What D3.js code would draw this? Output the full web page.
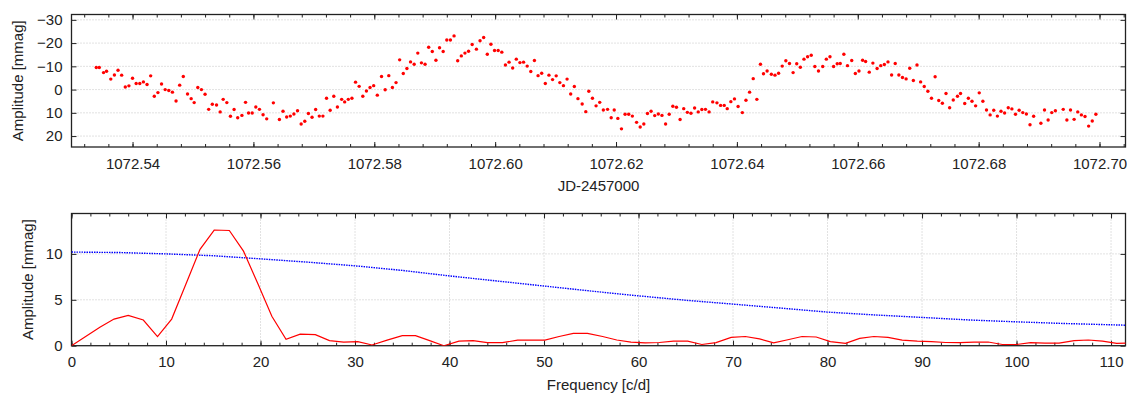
<!DOCTYPE html>
<html>
<head>
<meta charset="utf-8">
<script src="https://cdn.jsdelivr.net/npm/d3@7"></script>
<style>
  body { margin: 0; background: #fff; }
  svg { display: block; font-family: "Liberation Sans", Arial, sans-serif; }
  .grid line { stroke: #c4c4c4; stroke-width: 1; stroke-dasharray: 1,2; }
  .tick text { font-size: 15px; fill: #222; }
  .tick line { stroke: #222; }
  .title { font-size: 15px; fill: #222; }
</style>
</head>
<body>
<svg id="chart" width="1127" height="394"></svg>
<script>
// ─── Data ─────────────────────────────────────────────────────────────────────

// light curve: JD-2457000 and amplitude [mmag]
const lcTime = [
  1072.5340, 1072.5345, 1072.5352, 1072.5357, 1072.5364, 1072.5370, 1072.5376, 1072.5382, 1072.5388, 1072.5394,
  1072.5400, 1072.5406, 1072.5412, 1072.5418, 1072.5424, 1072.5430, 1072.5436, 1072.5442, 1072.5448, 1072.5454,
  1072.5460, 1072.5466, 1072.5472, 1072.5478, 1072.5484, 1072.5491, 1072.5497, 1072.5502, 1072.5508, 1072.5514,
  1072.5520, 1072.5526, 1072.5532, 1072.5539, 1072.5545, 1072.5550, 1072.5556, 1072.5562, 1072.5568, 1072.5574,
  1072.5581, 1072.5587, 1072.5592, 1072.5598, 1072.5604, 1072.5610, 1072.5616, 1072.5622, 1072.5633, 1072.5643,
  1072.5649, 1072.5655, 1072.5661, 1072.5667, 1072.5673, 1072.5679, 1072.5685, 1072.5691, 1072.5697, 1072.5703,
  1072.5709, 1072.5715, 1072.5721, 1072.5727, 1072.5733, 1072.5739, 1072.5746, 1072.5751, 1072.5757, 1072.5763,
  1072.5769, 1072.5775, 1072.5781, 1072.5787, 1072.5793, 1072.5799, 1072.5805, 1072.5812, 1072.5818, 1072.5824,
  1072.5830, 1072.5836, 1072.5842, 1072.5848, 1072.5854, 1072.5860, 1072.5866, 1072.5872, 1072.5878, 1072.5884,
  1072.5890, 1072.5896, 1072.5902, 1072.5908, 1072.5914, 1072.5920, 1072.5926, 1072.5932, 1072.5938, 1072.5944,
  1072.5950, 1072.5956, 1072.5962, 1072.5969, 1072.5975, 1072.5981, 1072.5987, 1072.5993, 1072.5999, 1072.6005,
  1072.6011, 1072.6017, 1072.6023, 1072.6029, 1072.6035, 1072.6041, 1072.6047, 1072.6053, 1072.6059, 1072.6065,
  1072.6071, 1072.6077, 1072.6083, 1072.6089, 1072.6095, 1072.6101, 1072.6107, 1072.6113, 1072.6119, 1072.6125,
  1072.6131, 1072.6137, 1072.6144, 1072.6150, 1072.6155, 1072.6161, 1072.6167, 1072.6173, 1072.6179, 1072.6186,
  1072.6192, 1072.6197, 1072.6203, 1072.6209, 1072.6215, 1072.6221, 1072.6227, 1072.6234, 1072.6240, 1072.6246,
  1072.6252, 1072.6258, 1072.6264, 1072.6270, 1072.6276, 1072.6282, 1072.6288, 1072.6294, 1072.6300, 1072.6306,
  1072.6312, 1072.6318, 1072.6324, 1072.6330, 1072.6336, 1072.6342, 1072.6348, 1072.6354, 1072.6360, 1072.6367,
  1072.6373, 1072.6379, 1072.6384, 1072.6390, 1072.6396, 1072.6402, 1072.6409, 1072.6415, 1072.6421, 1072.6427,
  1072.6433, 1072.6439, 1072.6444, 1072.6450, 1072.6457, 1072.6463, 1072.6469, 1072.6475, 1072.6481, 1072.6487,
  1072.6493, 1072.6499, 1072.6505, 1072.6511, 1072.6517, 1072.6523, 1072.6529, 1072.6535, 1072.6542, 1072.6548,
  1072.6554, 1072.6560, 1072.6566, 1072.6571, 1072.6577, 1072.6583, 1072.6590, 1072.6596, 1072.6602, 1072.6608,
  1072.6613, 1072.6619, 1072.6625, 1072.6632, 1072.6638, 1072.6644, 1072.6650, 1072.6656, 1072.6662, 1072.6668,
  1072.6674, 1072.6680, 1072.6686, 1072.6692, 1072.6698, 1072.6704, 1072.6710, 1072.6716, 1072.6722, 1072.6728,
  1072.6734, 1072.6740, 1072.6746, 1072.6752, 1072.6758, 1072.6765, 1072.6770, 1072.6777, 1072.6783, 1072.6789,
  1072.6795, 1072.6801, 1072.6807, 1072.6813, 1072.6819, 1072.6825, 1072.6831, 1072.6837, 1072.6843, 1072.6849,
  1072.6855, 1072.6861, 1072.6867, 1072.6873, 1072.6879, 1072.6885, 1072.6891, 1072.6903, 1072.6909, 1072.6915,
  1072.6921, 1072.6927, 1072.6940, 1072.6946, 1072.6952, 1072.6958, 1072.6964, 1072.6970, 1072.6976, 1072.6982,
  1072.6988, 1072.6994
];
const lcAmp = [
  -9.5, -9.5, -7.3, -7.9, -4.5, -6.3, -8.3, -6.2, -1.1, -1.6,
  -4.9, -2.6, -2.6, -3.3, -2.2, -5.9, 2.9, 1.3, -2.4, 0.0,
  0.4, 1.1, 4.9, -1.9, -5.6, 1.9, 3.9, 5.6, -0.9, 0.0,
  2.0, 8.5, 6.3, 6.6, 9.6, 4.2, 5.6, 11.5, 8.6, 12.1,
  11.1, 5.5, 10.1, 10.1, 7.5, 8.5, 10.8, 12.6, 5.7, 12.9,
  9.3, 11.8, 11.4, 10.5, 9.1, 14.8, 13.6, 10.3, 11.9, 8.6,
  11.4, 11.4, 3.7, 8.9, 2.9, 7.5, 4.2, 5.3, 4.2, 3.7,
  -3.2, -1.4, 2.9, 0.6, -0.9, -1.7, 2.4, -5.6, 0.1, -6.0,
  -0.9, -3.0, -12.8, -6.9, -9.1, -11.9, -10.9, -15.7, -11.5, -10.9,
  -18.2, -16.4, -12.6, -18.0, -16.4, -21.3, -21.3, -23.1, -12.4, -14.5,
  -15.7, -16.5, -19.4, -17.4, -21.0, -22.4, -15.2, -19.5, -16.8, -16.8,
  -16.1, -10.6, -11.8, -9.3, -13.1, -11.6, -11.8, -10.1, -7.8, -12.5,
  -6.0, -7.0, -2.6, -6.2, -4.3, -5.9, -3.0, -1.7, -4.5, 1.9,
  -1.3, 3.9, 6.2, 9.5, 0.7, 3.7, 7.0, 5.5, 8.8, 8.5,
  12.1, 8.8, 12.4, 16.9, 10.6, 10.6, 11.4, 14.1, 16.1, 14.8,
  10.3, 9.3, 11.2, 10.5, 11.1, 14.8, 10.6, 7.2, 7.6, 12.9,
  8.2, 9.8, 10.2, 7.9, 9.6, 8.6, 8.5, 9.6, 5.3, 5.7,
  6.8, 6.8, 8.2, 5.2, 4.0, 7.3, 9.9, 4.6, 1.1, -4.7,
  4.2, -10.9, -6.8, -8.0, -6.6, -6.2, -7.0, -10.1, -12.4, -11.2,
  -7.3, -11.1, -9.6, -13.1, -14.1, -14.8, -9.9, -8.0, -9.9, -13.1,
  -14.1, -9.9, -11.1, -11.2, -15.2, -10.3, -12.5, -6.9, -8.0, -12.6,
  -12.1, -7.5, -11.4, -9.1, -10.3, -10.8, -11.9, -6.3, -11.2, -6.3,
  -5.2, -4.6, -9.2, -3.9, -10.6, -3.3, -1.3, 0.7, 3.7, -5.5,
  4.7, 5.9, 1.7, 7.8, 4.5, 2.9, 1.7, 6.0, 3.7, 5.0,
  7.0, 1.4, 5.0, 8.8, 10.9, 8.9, 11.4, 9.3, 10.1, 7.8,
  8.3, 10.6, 8.9, 9.9, 10.5, 15.1, 11.5, 14.5, 8.8, 13.1,
  9.9, 9.1, 8.5, 13.1, 8.8, 12.8, 9.6, 10.9, 11.6, 15.7,
  13.5, 10.6
];

// amplitude spectrum: frequency [c/d] and amplitude [mmag]
const specFreq = [
  0, 1.5, 3.0, 4.5, 6.0, 7.6, 9.1, 10.6, 12.1, 13.6,
  15.1, 16.7, 18.2, 19.7, 21.2, 22.7, 24.2, 25.8, 27.3, 28.8,
  30.3, 31.8, 33.4, 35.0, 36.4, 37.9, 39.4, 41.0, 42.5, 44.0,
  45.6, 47.2, 48.6, 50.1, 51.6, 53.1, 54.6, 56.2, 57.7, 59.2,
  60.7, 62.2, 63.7, 65.2, 66.7, 68.2, 69.8, 71.3, 72.8, 74.3,
  75.8, 77.3, 78.8, 80.3, 81.9, 83.4, 84.9, 86.4, 87.9, 89.5,
  91.0, 92.5, 94.0, 95.5, 97.0, 98.5, 100.0, 101.5, 103.0, 104.5,
  106.1, 107.6, 109.1, 110.6, 112.1
];
const specAmp = [
  0, 1.0, 2.0, 2.9, 3.3, 2.8, 1.0, 2.9, 6.7, 10.5,
  12.6, 12.55, 10.3, 6.8, 3.2, 0.7, 1.25, 1.2, 0.55, 0.4,
  0.45, 0.08, 0.6, 1.1, 1.1, 0.55, 0.0, 0.5, 0.55, 0.33,
  0.33, 0.6, 0.6, 0.6, 1.0, 1.35, 1.35, 1.0, 0.62, 0.4,
  0.3, 0.35, 0.5, 0.5, 0.13, 0.33, 0.9, 1.0, 0.75, 0.3,
  0.65, 1.0, 0.95, 0.45, 0.26, 0.8, 1.0, 0.9, 0.6, 0.5,
  0.45, 0.35, 0.33, 0.4, 0.4, 0.13, 0.13, 0.33, 0.28, 0.28,
  0.55, 0.62, 0.5, 0.26, 0.3
];

// significance level (blue dotted)
const sigFreq = [0, 5, 10, 15, 20, 25, 30, 35, 40, 45, 50, 55, 60, 65, 70, 75, 80, 85, 90, 95, 100, 105, 112];
const sigAmp = [10.2, 10.15, 10.0, 9.8, 9.46, 9.1, 8.7, 8.2, 7.6, 7.05, 6.5, 5.95, 5.43, 4.95, 4.53, 4.1, 3.66, 3.35, 3.08, 2.8, 2.6, 2.42, 2.22];

// tick values
const timeTicks = [1072.54, 1072.56, 1072.58, 1072.60, 1072.62, 1072.64, 1072.66, 1072.68, 1072.70];
const lcAmpTicks = [-30, -20, -10, 0, 10, 20];
const freqTicks = [0, 10, 20, 30, 40, 50, 60, 70, 80, 90, 100, 110];
const specAmpTicks = [0, 5, 10];

// ─── Layout ───────────────────────────────────────────────────────────────────

const svg = d3.select("#chart");
const left = 71.5, right = 1125.5;
const top1 = 14.5, bottom1 = 147;
const top2 = 213.5, bottom2 = 345.7;

function addAxes(g, x, y, xTicks, xMinor, yTicks, fmt, top, bottom, vGrid) {
  // horizontal grid
  g.append("g").attr("class", "grid")
    .selectAll("line")
    .data(yTicks.filter(d => Math.abs(y(d) - bottom) > 2))
    .join("line")
    .attr("x1", left).attr("x2", right)
    .attr("y1", d => y(d)).attr("y2", d => y(d));

  if (vGrid) {
    g.append("g").attr("class", "grid")
      .selectAll("line")
      .data(xTicks.filter(d => Math.abs(x(d) - left) > 2))
      .join("line")
      .attr("x1", d => x(d)).attr("x2", d => x(d))
      .attr("y1", top).attr("y2", bottom);
  }

  // bottom axis (ticks inward)
  g.append("g")
    .attr("transform", `translate(0,${bottom})`)
    .call(d3.axisBottom(x).tickValues(xTicks).tickSize(-5).tickPadding(11).tickFormat(fmt))
    .call(a => a.select(".domain").remove());
  g.append("g")
    .attr("transform", `translate(0,${bottom})`)
    .call(d3.axisBottom(x).tickValues(xMinor).tickSize(-3).tickFormat(""))
    .call(a => a.select(".domain").remove());

  // top mirror
  g.append("g")
    .attr("transform", `translate(0,${top})`)
    .call(d3.axisTop(x).tickValues(xTicks).tickSize(-5).tickFormat(""))
    .call(a => a.select(".domain").remove());
  g.append("g")
    .attr("transform", `translate(0,${top})`)
    .call(d3.axisTop(x).tickValues(xMinor).tickSize(-3).tickFormat(""))
    .call(a => a.select(".domain").remove());

  // left / right
  g.append("g")
    .attr("transform", `translate(${left},0)`)
    .call(d3.axisLeft(y).tickValues(yTicks).tickSize(-5).tickPadding(9))
    .call(a => a.select(".domain").remove());
  g.append("g")
    .attr("transform", `translate(${right},0)`)
    .call(d3.axisRight(y).tickValues(yTicks).tickSize(-5).tickFormat(""))
    .call(a => a.select(".domain").remove());

  // frame
  g.append("rect")
    .attr("x", left).attr("y", top)
    .attr("width", right - left).attr("height", bottom - top)
    .attr("fill", "none")
    .attr("stroke", "#222")
    .attr("stroke-width", 1.3);
}

// ─── Light curve ──────────────────────────────────────────────────────────────

function renderLightCurve() {
  const x = d3.scaleLinear().domain([1072.5299, 1072.7043]).range([left, right]);
  const y = d3.scaleLinear().domain([-32.3, 24.7]).range([top1, bottom1]);
  const g = svg.append("g");

  const minor = d3.range(1072.532, 1072.705, 0.004);
  addAxes(g, x, y, timeTicks, minor, lcAmpTicks, d3.format(".2f"), top1, bottom1, false);

  g.append("g")
    .selectAll("circle")
    .data(lcTime.map((t, i) => ({ t, a: lcAmp[i] })))
    .join("circle")
    .attr("cx", d => x(d.t))
    .attr("cy", d => y(d.a))
    .attr("r", 1.7)
    .attr("fill", "#ff0000");

  g.append("text")
    .attr("class", "title")
    .attr("x", (left + right) / 2)
    .attr("y", 191)
    .attr("text-anchor", "middle")
    .text("JD-2457000");

  g.append("text")
    .attr("class", "title")
    .attr("transform", `translate(23,${(top1 + bottom1) / 2}) rotate(-90)`)
    .attr("text-anchor", "middle")
    .text("Amplitude [mmag]");
}

// ─── Amplitude spectrum ───────────────────────────────────────────────────────

function renderSpectrum() {
  const x = d3.scaleLinear().domain([0, 111.53]).range([left, right]);
  const y = d3.scaleLinear().domain([0, 14.4]).range([bottom2, top2]);
  const g = svg.append("g");

  const minor = d3.range(0, 112, 2);
  addAxes(g, x, y, freqTicks, minor, specAmpTicks, d3.format("d"), top2, bottom2, true);

  const clip = g.append("clipPath").attr("id", "clip2")
    .append("rect")
    .attr("x", left).attr("y", top2)
    .attr("width", right - left).attr("height", bottom2 - top2);

  const line = d3.line().x(d => x(d[0])).y(d => y(d[1]));

  g.append("path")
    .datum(sigFreq.map((f, i) => [f, sigAmp[i]]))
    .attr("clip-path", "url(#clip2)")
    .attr("d", line)
    .attr("fill", "none")
    .attr("stroke", "#0000ff")
    .attr("stroke-width", 1.4)
    .attr("stroke-dasharray", "1.5,1");

  g.append("path")
    .datum(specFreq.map((f, i) => [f, specAmp[i]]))
    .attr("clip-path", "url(#clip2)")
    .attr("d", line)
    .attr("fill", "none")
    .attr("stroke", "#ff0000")
    .attr("stroke-width", 1.2);

  g.append("text")
    .attr("class", "title")
    .attr("x", (left + right) / 2)
    .attr("y", 390)
    .attr("text-anchor", "middle")
    .text("Frequency [c/d]");

  g.append("text")
    .attr("class", "title")
    .attr("transform", `translate(33,${(top2 + bottom2) / 2}) rotate(-90)`)
    .attr("text-anchor", "middle")
    .text("Amplitude [mmag]");
}

renderLightCurve();
renderSpectrum();
</script>
</body>
</html>
